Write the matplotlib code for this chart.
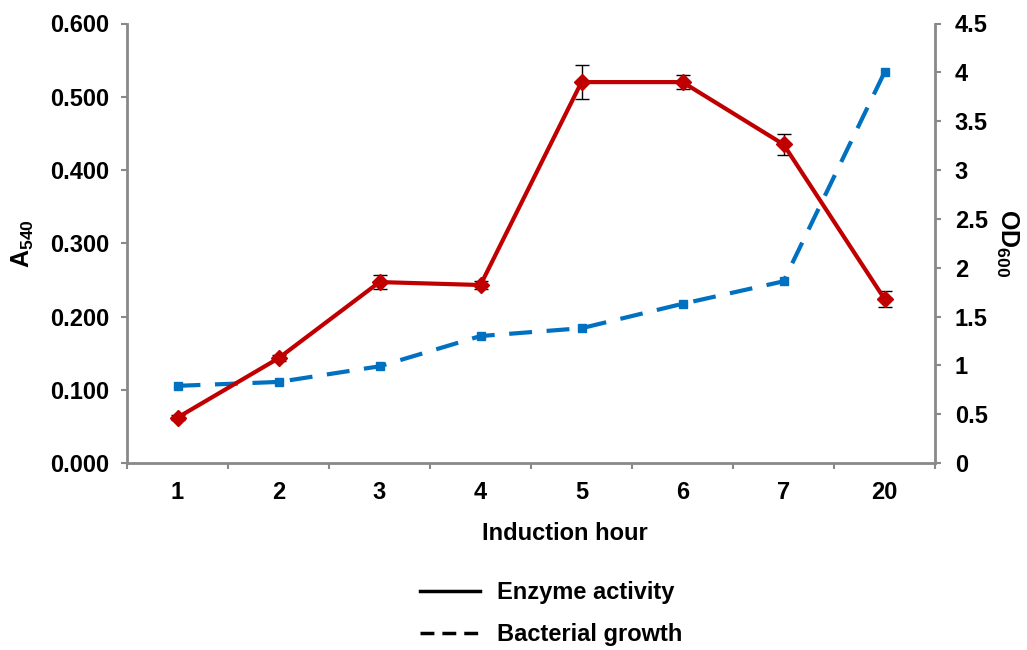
import numpy as np
import matplotlib.pyplot as plt
from matplotlib.lines import Line2D

plt.rcParams['font.family'] = ['Liberation Sans', 'DejaVu Sans']
plt.rcParams['font.weight'] = 'bold'
plt.rcParams['mathtext.fontset'] = 'custom'
plt.rcParams['mathtext.bf'] = 'Liberation Sans:bold'
plt.rcParams['mathtext.rm'] = 'Liberation Sans:bold'

# data
hours = ['1', '2', '3', '4', '5', '6', '7', '20']
enzyme = [0.062, 0.143, 0.247, 0.243, 0.520, 0.520, 0.435, 0.224]
enzyme_err = [0.003, 0.004, 0.009, 0.005, 0.023, 0.010, 0.014, 0.011]
growth = [0.79, 0.83, 0.99, 1.30, 1.38, 1.63, 1.86, 4.00]

spine_col = '#898989'
red = '#C00000'
blue = '#0070C0'
fs = 17

fig = plt.figure(figsize=(10.27, 6.5), dpi=100)
ax = fig.add_axes([127 / 1027, 1 - 463 / 650, (935 - 127) / 1027, (463 - 23.5) / 650])
ax2 = ax.twinx()

x = np.arange(len(hours))

# Bacterial growth on right axis
ax2.plot(x, growth, color=blue, linestyle=(0, (5.5, 3.5)), linewidth=3,
         marker='s', markersize=6, zorder=2)

# Enzyme activity on left axis
ax.errorbar(x, enzyme, yerr=enzyme_err, color=red, linewidth=3,
            marker='D', markersize=8, ecolor='black', elinewidth=1,
            capsize=5, capthick=1, zorder=3)
ax.set_zorder(ax2.get_zorder() + 1)
ax.patch.set_visible(False)

ax.set_xlim(-0.5, len(hours) - 0.5)
ax.set_ylim(0, 0.6)
ax2.set_ylim(0, 4.5)

ax.set_yticks(np.arange(0, 0.61, 0.1))
ax.set_yticklabels([f'{v:.3f}' for v in np.arange(0, 0.61, 0.1)])
ax2.set_yticks(np.arange(0, 4.51, 0.5))
ax2.set_yticklabels(['0', '0.5', '1', '1.5', '2', '2.5', '3', '3.5', '4', '4.5'])

ax.set_xticks(x)
ax.set_xticklabels(hours)
ax.set_xticks(np.arange(-0.5, len(hours), 1), minor=True)
ax.tick_params(axis='x', which='major', length=0, pad=13)
ax.tick_params(axis='x', which='minor', length=4.3, width=1.5, color=spine_col)
ax.tick_params(axis='y', length=4.3, width=1.5, color=spine_col, pad=8.6)
ax2.tick_params(axis='y', length=4.3, width=1.5, color=spine_col, pad=10)

for a in (ax, ax2):
    for s in a.spines.values():
        s.set_visible(False)
    a.tick_params(labelsize=fs)
    for lab in a.get_xticklabels() + a.get_yticklabels():
        lab.set_fontweight('bold')

ax.spines['left'].set_visible(True)
ax.spines['bottom'].set_visible(True)
ax2.spines['right'].set_visible(True)
for s in (ax.spines['left'], ax.spines['bottom'], ax2.spines['right']):
    s.set_color(spine_col)
    s.set_linewidth(2)

ax.set_xlabel('Induction hour', fontsize=fs, fontweight='bold', labelpad=14)
ax.xaxis.set_label_coords((565 - 127) / 808, -0.135)
ax.set_ylabel(r'$\mathbf{A_{540}}$', fontsize=18, labelpad=10)
ax2.set_ylabel(r'$\mathbf{OD_{600}}$', fontsize=18, rotation=-90, labelpad=23)

handles = [Line2D([], [], color='black', linewidth=2.5),
           Line2D([], [], color='black', linewidth=2.5, linestyle=(0, (4, 2.3)))]
fig.legend(handles, ['Enzyme activity', 'Bacterial growth'],
           loc='center left', bbox_to_anchor=(420 / 1027, 1 - 613.5 / 650),
           frameon=False, handlelength=2.54, labelspacing=0.82,
           handletextpad=0.72, borderpad=0, borderaxespad=0,
           prop={'weight': 'bold', 'size': fs})

fig.savefig('out.png', dpi=100)
